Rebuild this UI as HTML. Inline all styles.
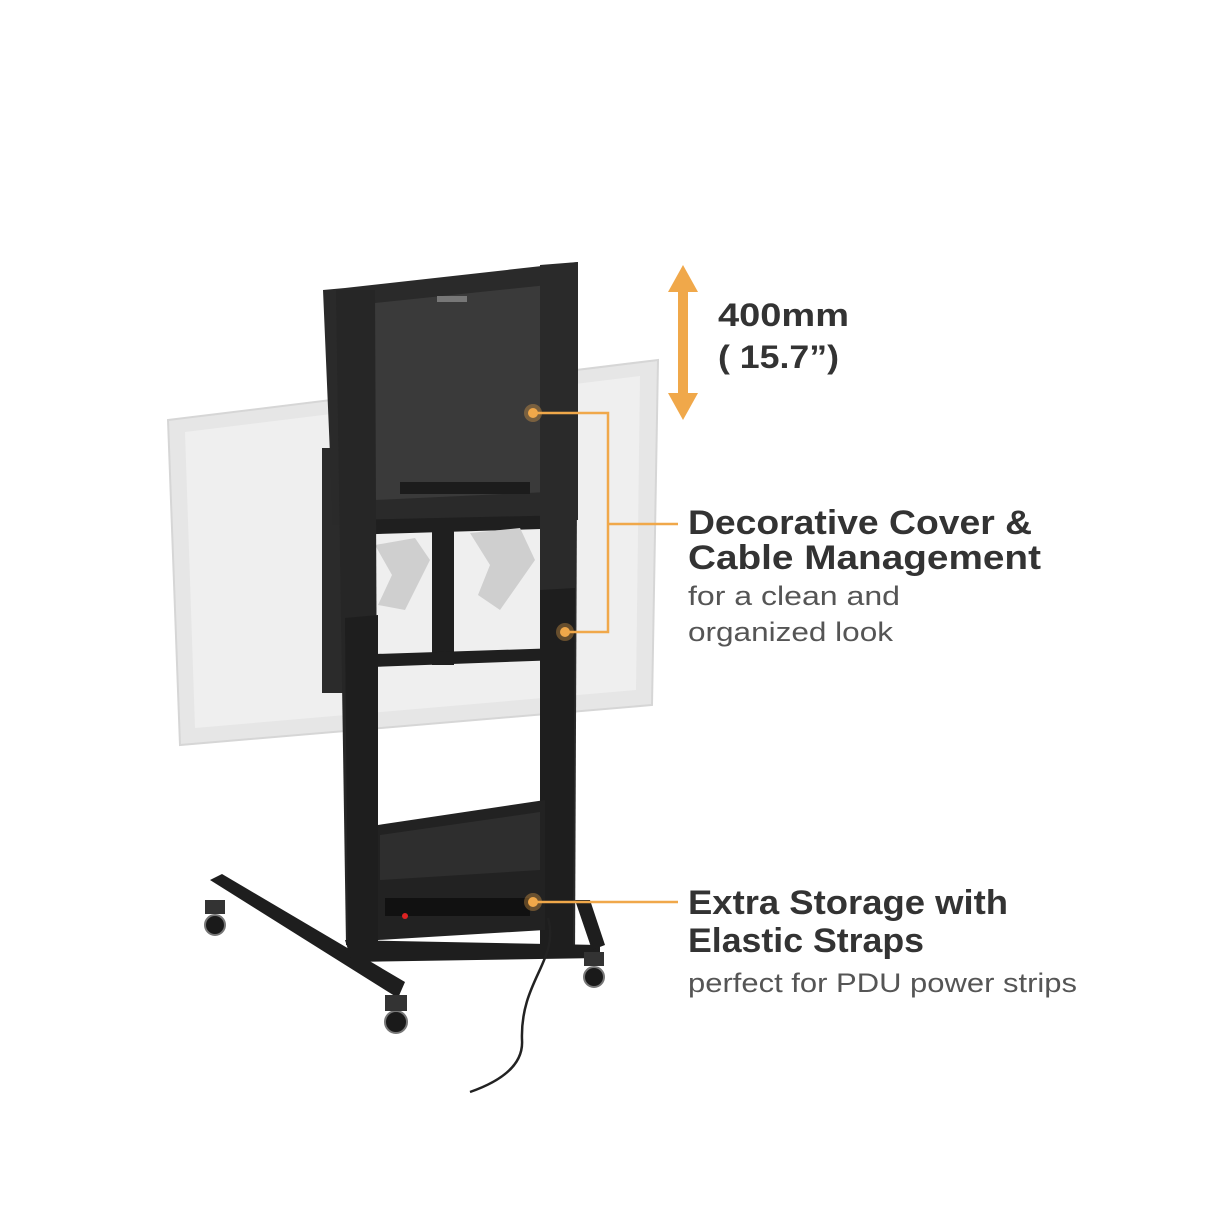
<!DOCTYPE html>
<html><head><meta charset="utf-8"><style>
html,body{margin:0;padding:0;background:#fff;}
svg{display:block;}
text{font-family:"Liberation Sans",sans-serif;}
</style></head><body>
<svg width="1214" height="1214" viewBox="0 0 1214 1214" xmlns="http://www.w3.org/2000/svg">
<rect width="1214" height="1214" fill="#fff"/>
<polygon points="168,420 658,360 652,705 180,745" fill="#e6e6e6" stroke="#d6d6d6" stroke-width="2"/>
<polygon points="185,432 640,376 636,690 195,728" fill="#efefef"/>
<rect x="322" y="448" width="22" height="245" fill="#2b2b2b"/>
<polygon points="323,290 345,288 578,262 578,520 345,525 333,525" fill="#2a2a2a"/>
<polygon points="375,303 548,285 548,492 375,500" fill="#3a3a3a"/>
<rect x="400" y="482" width="130" height="12" fill="#1c1c1c"/>
<rect x="437" y="296" width="30" height="6" fill="#777"/>
<polygon points="345,520 575,515 575,528 345,535" fill="#1f1f1f"/>
<rect x="432" y="530" width="22" height="135" fill="#1f1f1f"/>
<polygon points="375,545 415,538 430,560 405,610 378,605 392,575" fill="#cfcfcf"/>
<polygon points="470,533 520,528 535,560 500,610 478,595 490,565" fill="#cfcfcf"/>
<polygon points="345,655 560,648 560,660 345,668" fill="#1f1f1f"/>
<polygon points="336,290 375,290 378,945 346,945" fill="#262626"/>
<polygon points="345,618 378,615 378,948 348,948" fill="#1e1e1e"/>
<polygon points="540,265 578,262 575,958 540,958" fill="#2a2a2a"/>
<polygon points="540,590 575,588 573,958 540,958" fill="#1e1e1e"/>
<polygon points="378,825 545,800 545,930 378,940" fill="#222"/>
<polygon points="380,835 540,812 540,870 380,880" fill="#2e2e2e"/>
<rect x="385" y="898" width="145" height="18" fill="#111"/>
<circle cx="405" cy="916" r="3" fill="#d22"/>
<polygon points="210,880 222,874 405,982 398,998" fill="#1e1e1e"/>
<polygon points="345,940 600,945 600,958 352,962" fill="#1e1e1e"/>
<polygon points="575,900 590,900 605,945 592,950" fill="#1e1e1e"/>
<g fill="#1a1a1a" stroke="#777" stroke-width="2">
<circle cx="215" cy="925" r="10"/><circle cx="396" cy="1022" r="11"/><circle cx="594" cy="977" r="10"/>
</g>
<rect x="205" y="900" width="20" height="14" fill="#333"/>
<rect x="385" y="995" width="22" height="16" fill="#333"/>
<rect x="584" y="952" width="20" height="14" fill="#333"/>
<path d="M548,918 C560,960 520,980 522,1040 C524,1070 490,1085 470,1092" fill="none" stroke="#222" stroke-width="2.5"/>
<polygon fill="#f0a84a" points="683,265 698,292 688,292 688,393 698,393 683,420 668,393 678,393 678,292 668,292"/>
<g stroke="#f0a84a" stroke-width="2.5" fill="none">
<polyline points="533,413 608,413 608,632 565,632"/>
<line x1="608" y1="524" x2="678" y2="524"/>
<line x1="533" y1="902" x2="678" y2="902"/>
</g>
<g fill="#f0a84a">
<circle cx="533" cy="413" r="9" opacity="0.35"/><circle cx="533" cy="413" r="5"/>
<circle cx="565" cy="632" r="9" opacity="0.35"/><circle cx="565" cy="632" r="5"/>
<circle cx="533" cy="902" r="9" opacity="0.35"/><circle cx="533" cy="902" r="5"/>
</g>
<g fill="#333" font-weight="bold">
<text x="718" y="326" font-size="32" textLength="131" lengthAdjust="spacingAndGlyphs">400mm</text>
<text x="718" y="368" font-size="32" textLength="121" lengthAdjust="spacingAndGlyphs">( 15.7”)</text>
<text x="688" y="534" font-size="34" textLength="344" lengthAdjust="spacingAndGlyphs">Decorative Cover &amp;</text>
<text x="688" y="569" font-size="34" textLength="353" lengthAdjust="spacingAndGlyphs">Cable Management</text>
<text x="688" y="914" font-size="34" textLength="320" lengthAdjust="spacingAndGlyphs">Extra Storage with</text>
<text x="688" y="952" font-size="34" textLength="236" lengthAdjust="spacingAndGlyphs">Elastic Straps</text>
</g>
<g fill="#555" font-size="27">
<text x="688" y="605" textLength="212" lengthAdjust="spacingAndGlyphs">for a clean and</text>
<text x="688" y="641" textLength="205" lengthAdjust="spacingAndGlyphs">organized look</text>
<text x="688" y="992" textLength="389" lengthAdjust="spacingAndGlyphs">perfect for PDU power strips</text>
</g>
</svg>
</body></html>
